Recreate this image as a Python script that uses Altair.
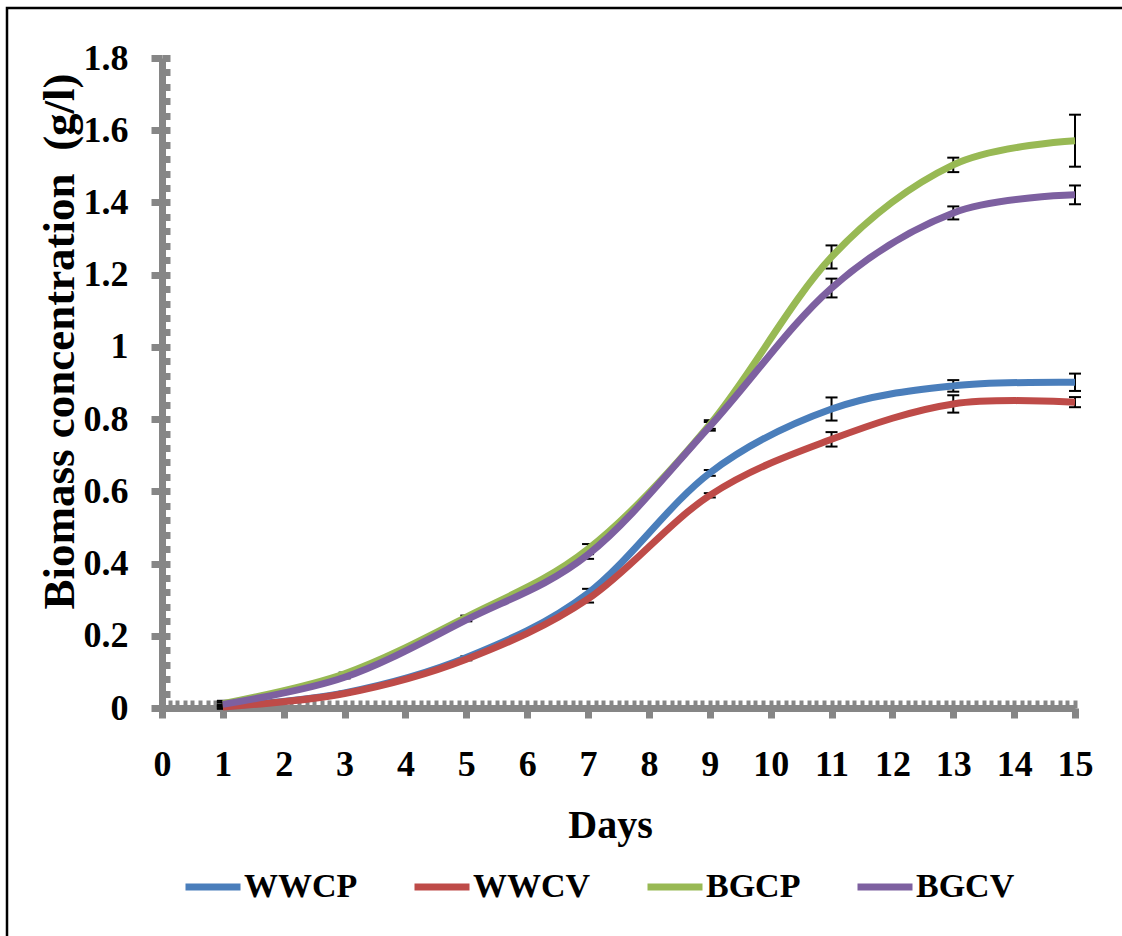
import altair as alt
import pandas as pd

# Sampling days and the four cultures
days = [1, 3, 5, 7, 9, 11, 13, 15]
series = ["WWCP", "WWCV", "BGCP", "BGCV"]
colors = ["#4A7EBB", "#BE4B48", "#98B954", "#7D60A0"]

# Biomass concentration (g/l)
wwcp = [0.004, 0.042, 0.140, 0.318, 0.651, 0.828, 0.892, 0.902]
wwcv = [0.003, 0.040, 0.135, 0.302, 0.589, 0.744, 0.842, 0.847]
bgcp = [0.012, 0.095, 0.252, 0.440, 0.785, 1.249, 1.504, 1.571]
bgcv = [0.010, 0.085, 0.244, 0.425, 0.780, 1.163, 1.371, 1.421]

# Standard deviations
wwcp_err = [0.006, 0.003, 0.003, 0.012, 0.008, 0.032, 0.016, 0.024]
wwcv_err = [0.004, 0.003, 0.003, 0.010, 0.006, 0.020, 0.024, 0.014]
bgcp_err = [0.008, 0.003, 0.004, 0.014, 0.012, 0.032, 0.020, 0.072]
bgcv_err = [0.006, 0.003, 0.004, 0.012, 0.012, 0.026, 0.018, 0.026]

# Axis tick values
x_ticks = list(range(0, 16))
y_ticks = [0, 0.2, 0.4, 0.6, 0.8, 1.0, 1.2, 1.4, 1.6, 1.8]
x_minor = [i / 8 for i in range(0, 121)]
y_minor = [round(i * 0.04, 2) for i in range(0, 46)]

rows = []
for name, vals, errs in zip(series, [wwcp, wwcv, bgcp, bgcv],
                            [wwcp_err, wwcv_err, bgcp_err, bgcv_err]):
    for d, v, e in zip(days, vals, errs):
        rows.append({"day": d, "series": name, "value": v,
                     "lo": v - e, "hi": v + e})
df = pd.DataFrame(rows)

W, H = 913, 650
FONT = "Liberation Serif"
GRAY = "#868686"
FS = 36

x_scale = alt.Scale(domain=[0, 15], nice=False, zero=False)
y_scale = alt.Scale(domain=[0, 1.8], nice=False)
color_scale = alt.Scale(domain=series, range=colors)

x_axis = alt.Axis(
    values=x_ticks, title="Days", grid=False,
    domainColor=GRAY, domainWidth=7, tickColor=GRAY, tickWidth=7, tickSize=10,
    labelFont=FONT, labelFontSize=FS, labelFontWeight="bold", labelColor="black",
    labelBaseline="alphabetic", labelPadding=57, labelFlush=False, labelOverlap=False,
    titleFont=FONT, titleFontSize=40, titleFontWeight="bold", titleColor="black",
    titleX=448, titleY=129, titleBaseline="alphabetic", titleAlign="center",
)
y_axis = alt.Axis(
    values=y_ticks, format=".1~f", title="Biomass concentration\u00a0 (g/l)", grid=False,
    domainColor=GRAY, domainWidth=7, tickColor=GRAY, tickWidth=7, tickSize=11,
    labelFont=FONT, labelFontSize=FS, labelFontWeight="bold", labelColor="black",
    labelBaseline="middle", labelPadding=23, labelFlush=False, labelOverlap=False,
    titleFont=FONT, titleFontSize=45, titleFontWeight="bold", titleColor="black",
    titleAngle=270, titleX=-89, titleY=283, titleBaseline="alphabetic",
    titleAlign="center",
)
# Minor tick rows drawn on the inner side of both axis lines
x_minor_axis = alt.Axis(
    orient="top", offset=-H, values=x_minor, labels=False, domain=False,
    tickColor=GRAY, tickWidth=4, tickSize=8, title=None, grid=False,
)
y_minor_axis = alt.Axis(
    orient="right", offset=-W, values=y_minor, labels=False, domain=False,
    tickColor=GRAY, tickWidth=7, tickSize=8, title=None, grid=False,
)

frame = alt.Chart(pd.DataFrame({"k": [0]})).mark_rect(
    fill=None, stroke="black", strokeWidth=2.5
).encode(
    x=alt.value(-155), x2=alt.value(968), y=alt.value(-50), y2=alt.value(887)
)

minor = alt.Chart(df).mark_point(opacity=0).encode(
    x=alt.X("day:Q", scale=x_scale, axis=x_minor_axis),
    y=alt.Y("value:Q", scale=y_scale, axis=y_minor_axis),
)

err_rule = alt.Chart(df).mark_rule(color="black", strokeWidth=2).encode(
    x=alt.X("day:Q", scale=x_scale, axis=None),
    y=alt.Y("lo:Q", scale=y_scale, axis=None),
    y2="hi:Q",
)
cap_lo = alt.Chart(df).mark_rule(color="black", strokeWidth=2, xOffset=-6, x2Offset=6).encode(
    x=alt.X("day:Q", scale=x_scale, axis=None),
    x2="day:Q",
    y=alt.Y("lo:Q", scale=y_scale, axis=None),
)
cap_hi = alt.Chart(df).mark_rule(color="black", strokeWidth=2, xOffset=-6, x2Offset=6).encode(
    x=alt.X("day:Q", scale=x_scale, axis=None),
    x2="day:Q",
    y=alt.Y("hi:Q", scale=y_scale, axis=None),
)

legend = alt.Legend(
    orient="none", legendX=20, legendY=798, direction="horizontal", title=None,
    symbolType="stroke", symbolSize=3025, symbolStrokeWidth=7,
    labelFont=FONT, labelFontSize=34, labelFontWeight="bold", labelColor="black",
    labelOffset=0, columnPadding=42,
)

line_layers = []
for i, name in enumerate(series):
    line_layers.append(
        alt.Chart(df).transform_filter(alt.datum.series == name)
        .mark_line(strokeWidth=7, interpolate="cardinal")
        .encode(
            x=alt.X("day:Q", scale=x_scale, axis=x_axis if i == 0 else None),
            y=alt.Y("value:Q", scale=y_scale, axis=y_axis if i == 0 else None),
            color=alt.Color("series:N", scale=color_scale, legend=legend),
        )
    )

chart = alt.layer(frame, minor, err_rule, cap_lo, cap_hi, *line_layers).resolve_axis(
    x="independent", y="independent"
).properties(
    width=W, height=H,
    autosize=alt.AutoSizeParams(type="none"),
    padding={"left": 162, "top": 58, "right": 47, "bottom": 228},
    background="white",
).configure_view(stroke=None)

chart.save("out.html", embed_options={"renderer": "svg", "actions": False})
